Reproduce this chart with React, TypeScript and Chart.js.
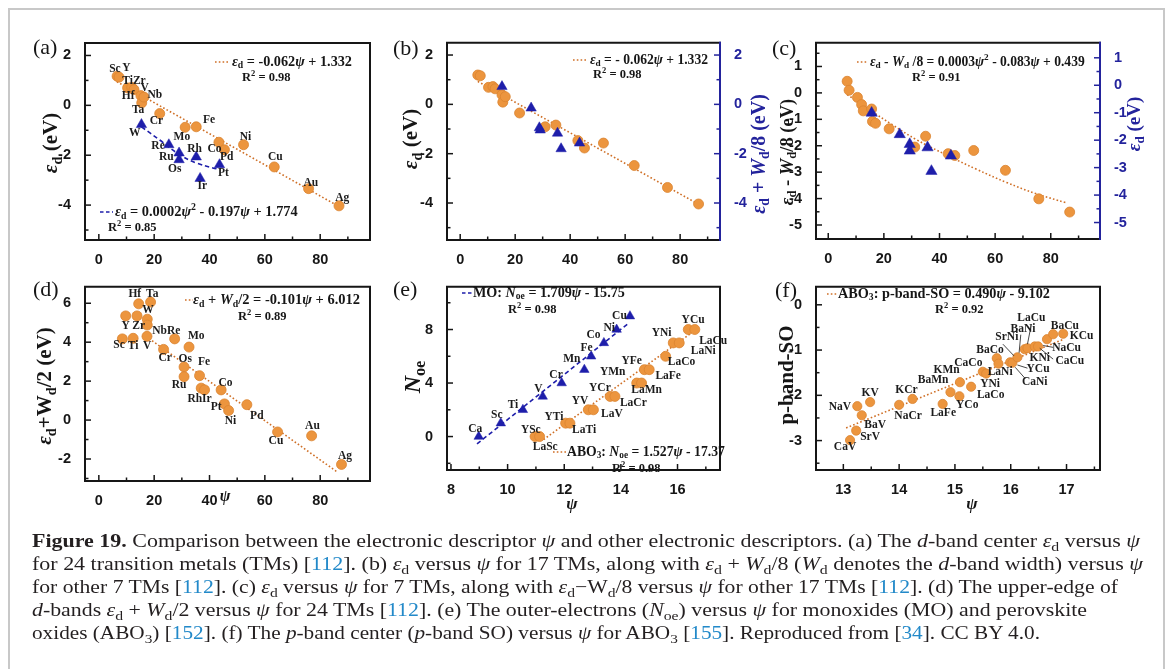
import React, { useEffect, useLayoutEffect, useRef } from 'react';
import { Chart, registerables } from 'chart.js';

Chart.register(...registerables);

// ================= DATA =================
// (a) d-band centre of 17 TMs (orange) and 7 TMs (blue)
const aOrangeNames = ['Sc', 'Y', 'Ti', 'Zr', 'Hf', 'V', 'Ta', 'Nb', 'Cr', 'Mo', 'Fe', 'Co', 'Pd', 'Ni', 'Cu', 'Au', 'Ag'];
const aOrangePsi = [6.6, 7.3, 10.4, 11.9, 12.7, 15.2, 15.5, 16.3, 22.0, 31.2, 35.2, 43.4, 45.4, 52.3, 63.4, 75.8, 86.8];
const aOrangeEd = [1.17, 1.13, 0.70, 0.72, 0.63, 0.39, 0.10, 0.33, -0.33, -0.88, -0.86, -1.48, -1.78, -1.58, -2.47, -3.34, -4.03];
const aBlueNames = ['W', 'Re', 'Ru', 'Os', 'Rh', 'Ir', 'Pt'];
const aBluePsi = [15.4, 25.3, 29.0, 29.0, 35.2, 36.6, 43.6];
const aBlueEd = [-0.77, -1.58, -1.91, -2.18, -2.07, -2.93, -2.38];
const aFitPsi = [6.5, 87.0];
const aFitEd = [0.95, -4.07];
const aCurvePsi = [15.4, 22.0, 29.2, 35.2, 41.2, 43.6];
const aCurveEd = [-0.86, -1.39, -1.98, -2.31, -2.51, -2.57];
const aLabelText = ['Sc', 'Y', 'TiZr', 'V', 'Nb', 'Hf', 'Ta', 'Cr', 'Fe', 'W', 'Mo', 'Ni', 'Re', 'Rh', 'Co', 'Ru', 'Pd', 'Cu', 'Os', 'Pt', 'Ir', 'Au', 'Ag'];
const aLabelX = [5.8, 10.0, 12.7, 16.6, 20.2, 10.6, 14.2, 20.8, 39.8, 13.0, 30.0, 53.0, 21.4, 34.6, 41.8, 24.4, 46.2, 63.8, 27.4, 45.0, 37.4, 76.6, 88.0];
const aLabelY = [1.45, 1.48, 0.96, 0.70, 0.40, 0.36, -0.20, -0.62, -0.57, -1.12, -1.28, -1.28, -1.65, -1.76, -1.76, -2.07, -2.07, -2.07, -2.57, -2.73, -3.23, -3.10, -3.70];

// (b) ε_d (17 TMs) and ε_d + W_d/8 (7 TMs)
const bOrangePsi = [6.4, 7.3, 10.3, 11.9, 12.7, 15.2, 15.5, 16.4, 21.6, 30.9, 34.8, 42.8, 45.2, 52.1, 63.3, 75.4, 86.7];
const bOrangeEd = [1.19, 1.16, 0.69, 0.72, 0.63, 0.39, 0.09, 0.31, -0.35, -0.91, -0.84, -1.47, -1.77, -1.57, -2.48, -3.37, -4.04];
const bBluePsi = [15.2, 25.8, 28.8, 29.1, 35.4, 36.7, 43.4];
const bBlueVal = [0.72, -0.15, -0.95, -1.04, -1.17, -1.80, -1.57];
const bFitPsi = [6.4, 86.7];
const bFitEd = [0.93, -4.05];

// (c) ε_d - W_d/8 (17 TMs) and ε_d (7 TMs)
const cOrangePsi = [6.8, 7.5, 10.5, 12.0, 12.6, 15.6, 15.9, 17.0, 21.9, 31.1, 35.0, 43.1, 45.5, 52.3, 63.7, 75.7, 86.8];
const cOrangeVal = [0.44, 0.10, -0.17, -0.44, -0.68, -0.61, -1.08, -1.15, -1.36, -2.05, -1.64, -2.30, -2.37, -2.18, -2.93, -4.01, -4.51];
const cBluePsi = [15.6, 25.7, 29.3, 29.3, 35.7, 37.1, 44.1];
const cBlueEd = [-1.01, -1.79, -2.15, -2.39, -2.27, -3.13, -2.57];
const cFitPsi = [6.8, 15.0, 23.4, 31.7, 42.5, 53.3, 64.1, 74.9, 85.6];
const cFitVal = [-0.06, -0.65, -1.23, -1.77, -2.35, -2.89, -3.39, -3.82, -4.16];

// (d) ε_d + W_d/2 for 24 TMs
const dNames = ['Hf', 'Ta', 'W', 'Nb', 'Y', 'Zr', 'Sc', 'Ti', 'V', 'Re', 'Mo', 'Cr', 'Os', 'Ru', 'Fe', 'Rh', 'Ir', 'Co', 'Pt', 'Ni', 'Pd', 'Cu', 'Au', 'Ag'];
const dPsi = [14.4, 18.7, 17.5, 17.5, 9.7, 13.8, 8.5, 12.4, 17.4, 27.4, 32.6, 23.4, 30.8, 30.8, 36.4, 37.0, 38.2, 44.2, 45.4, 46.9, 53.5, 64.6, 76.9, 87.7];
const dVal = [5.97, 6.06, 5.18, 4.88, 5.35, 5.35, 4.17, 4.20, 4.30, 4.17, 3.75, 3.63, 2.73, 2.23, 2.28, 1.64, 1.55, 1.55, 0.83, 0.49, 0.79, -0.61, -0.81, -2.28];
const dFitPsi = [17.0, 86.2];
const dFitVal = [4.30, -2.67];
const dLabelText = ['Hf', 'Ta', 'W', 'Y', 'Zr', 'NbRe', 'Mo', 'Sc', 'Ti', 'V', 'Cr', 'Os', 'Fe', 'Ru', 'Co', 'RhIr', 'Pt', 'Ni', 'Pd', 'Au', 'Cu', 'Ag'];
const dLabelX = [13.0, 19.3, 17.8, 9.7, 14.4, 24.4, 35.2, 7.3, 12.4, 17.5, 24.0, 31.2, 38.0, 29.0, 45.8, 36.4, 42.4, 47.6, 57.1, 77.2, 64.0, 89.0];
const dLabelY = [6.45, 6.45, 5.65, 4.84, 4.84, 4.59, 4.30, 3.86, 3.80, 3.80, 3.19, 3.12, 2.99, 1.81, 1.89, 1.08, 0.66, -0.05, 0.20, -0.30, -1.06, -1.87];

// (e) outer electrons vs ψ
const moNames = ['Ca', 'Sc', 'Ti', 'V', 'Cr', 'Mn', 'Fe', 'Co', 'Ni', 'Cu'];
const moPsi = [8.98, 9.76, 10.54, 11.24, 11.91, 12.71, 12.95, 13.40, 13.85, 14.32];
const moNoe = [0, 1, 2, 3, 4, 5, 6, 7, 8, 9];
const moFitPsi = [8.92, 14.26];
const moFitNoe = [-0.55, 8.45];
const moLabelX = [8.86, 9.62, 10.19, 11.09, 11.71, 12.27, 12.79, 13.03, 13.59, 13.95];
const moLabelY = [0.56, 1.61, 2.34, 3.56, 4.63, 5.76, 6.59, 7.56, 8.12, 8.98];
const aboNames = ['YSc', 'LaSc', 'YTi', 'LaTi', 'YV', 'LaV', 'YCr', 'LaCr', 'YMn', 'LaMn', 'YFe', 'LaFe', 'LaCo', 'YNi', 'LaNi', 'YCu', 'LaCu'];
const aboPsi = [10.97, 11.13, 12.05, 12.20, 12.85, 13.03, 13.62, 13.79, 14.56, 14.73, 14.83, 15.00, 15.58, 15.85, 16.06, 16.38, 16.61];
const aboNoe = [0, 0, 1, 1, 2, 2, 3, 3, 4, 4, 5, 5, 6, 7, 7, 8, 8];
const aboFitPsi = [11.27, 16.5];
const aboFitNoe = [-0.22, 7.76];
const aboLabelX = [10.82, 11.33, 11.64, 12.70, 12.56, 13.68, 13.26, 14.44, 13.71, 14.91, 14.38, 15.67, 16.14, 15.44, 16.91, 16.55, 17.26];
const aboLabelY = [0.49, -0.78, 1.46, 0.49, 2.63, 1.66, 3.61, 2.51, 4.83, 3.49, 5.61, 4.54, 5.56, 7.71, 6.41, 8.73, 7.15];

// (f) p-band centre vs ψ
const fNames = ['CaV', 'SrV', 'BaV', 'NaV', 'KV', 'NaCr', 'KCr', 'LaFe', 'BaMn', 'YCo', 'KMn', 'LaCo', 'CaCo', 'YNi', 'BaCo', 'LaNi', 'CaNi', 'YCu', 'SrNi', 'BaNi', 'LaCu', 'KNi', 'CaCu', 'NaCu', 'BaCu', 'KCu'];
const fPsi = [13.12, 13.23, 13.33, 13.25, 13.48, 14.00, 14.24, 14.78, 14.92, 15.08, 15.09, 15.29, 15.50, 15.56, 15.75, 15.78, 15.99, 16.03, 16.12, 16.25, 16.30, 16.43, 16.49, 16.65, 16.76, 16.94];
const fSO = [-2.99, -2.78, -2.44, -2.24, -2.15, -2.21, -2.08, -2.19, -1.93, -2.02, -1.71, -1.81, -1.48, -1.52, -1.18, -1.30, -1.27, -1.28, -1.16, -0.98, -0.96, -0.92, -0.92, -0.76, -0.65, -0.64];
const fFitPsi = [13.05, 16.95];
const fFitSO = [-2.72, -0.76];
const fLabelText = ['LaCu', 'BaCu', 'BaNi', 'KCu', 'SrNi', 'NaCu', 'BaCo', 'KNi', 'CaCu', 'CaCo', 'YCu', 'KMn', 'LaNi', 'BaMn', 'CaNi', 'YNi', 'LaCo', 'KCr', 'KV', 'YCo', 'NaV', 'LaFe', 'NaCr', 'BaV', 'SrV', 'CaV'];
const fLabelX = [16.37, 16.97, 16.22, 17.27, 15.93, 17.0, 15.63, 16.52, 17.06, 15.24, 16.49, 14.85, 15.81, 14.61, 16.43, 15.63, 15.64, 14.13, 13.48, 15.22, 12.94, 14.79, 14.16, 13.57, 13.48, 13.03];
const fLabelY = [-0.29, -0.46, -0.54, -0.70, -0.72, -0.96, -1.00, -1.18, -1.25, -1.28, -1.42, -1.45, -1.48, -1.66, -1.70, -1.74, -1.99, -1.88, -1.95, -2.21, -2.26, -2.39, -2.46, -2.65, -2.93, -3.15];
const fLeadX1 = [16.37, 16.18, 15.86, 16.76, 16.76, 16.30, 16.26];
const fLeadY1 = [-0.43, -0.66, -0.87, -0.94, -1.20, -1.40, -1.63];
const fLeadX2 = [16.30, 16.15, 16.06, 16.58, 16.52, 16.12, 16.08];
const fLeadY2 = [-0.87, -1.06, -1.13, -0.90, -0.96, -1.33, -1.38];

// ================= STYLE =================
const SERIF = '"Liberation Serif", "Times New Roman", serif';
const SANS = '"Liberation Sans", Arial, sans-serif';
const ORANGE = '#EC953E';
const ORANGE_EDGE = '#DA8431';
const FIT_ORANGE = '#CF6F26';
const BLUE = '#1E1EAA';
const AXIS_BLUE = '#23239C';
const BLACK = '#161616';
const REF = '#2289c9';

// ================= RICH TEXT =================
type Seg = { t: string; it: boolean; sub: boolean; sup: boolean };
function parseRich(s: string): Seg[] {
  const segs: Seg[] = [];
  let it = false;
  let mode = '';
  let buf = '';
  const push = () => {
    if (buf) segs.push({ t: buf, it, sub: mode === 'sub', sup: mode === 'sup' });
    buf = '';
  };
  for (let i = 0; i < s.length; i++) {
    const c = s[i];
    if (c === '|') { push(); it = !it; continue; }
    if ((c === '_' || c === '^') && s[i + 1] === '{') { push(); mode = c === '_' ? 'sub' : 'sup'; i++; continue; }
    if (c === '}' && mode) { push(); mode = ''; continue; }
    buf += c;
  }
  push();
  return segs;
}
function fontFor(sg: Seg, size: number, bold: boolean) {
  const sz = sg.sub || sg.sup ? size * 0.68 : size;
  return `${sg.it ? 'italic ' : ''}${bold ? 'bold ' : ''}${sz.toFixed(2)}px ${SERIF}`;
}
interface TextItem { t: string; x: number; y: number; size?: number; fitW?: number; align?: 'left' | 'center' | 'right'; rot?: boolean; color?: string; bold?: boolean }
function drawRich(ctx: CanvasRenderingContext2D, it: TextItem) {
  const segs = parseRich(it.t);
  const bold = it.bold !== false;
  let size = it.size ?? 12.5;
  const measure = (sz: number) => segs.reduce((w, sg) => { ctx.font = fontFor(sg, sz, bold); return w + ctx.measureText(sg.t).width; }, 0);
  let w = measure(size);
  if (it.fitW) { size = size * it.fitW / w; w = measure(size); }
  ctx.save();
  ctx.translate(it.x, it.y);
  if (it.rot) ctx.rotate(-Math.PI / 2);
  const align = it.align ?? 'left';
  let x = align === 'center' ? -w / 2 : align === 'right' ? -w : 0;
  ctx.fillStyle = it.color ?? BLACK;
  ctx.textBaseline = 'middle';
  ctx.textAlign = 'left';
  for (const sg of segs) {
    ctx.font = fontFor(sg, size, bold);
    const dy = sg.sub ? size * 0.28 : sg.sup ? -size * 0.33 : 0;
    ctx.fillText(sg.t, x, dy);
    x += ctx.measureText(sg.t).width;
  }
  ctx.restore();
}

// ================= PANELS =================
interface AxisDef { min: number; max: number; major: number[]; minor: number[] }
interface SegItem { x1: number; x2: number; y: number; color: string; dash: number[] }
interface PanelDef {
  id: string; cx: number; cy: number; cw: number; ch: number;
  L: number; T: number; R: number; B: number;
  x: AxisDef; y: AxisDef; y2?: AxisDef;
  datasets: any[];
  texts: TextItem[];
  segs: SegItem[];
  pointLabels?: { t: string[]; x: number[]; y: number[] }[];
  leaders?: { x1: number[]; y1: number[]; x2: number[]; y2: number[] };
}

const pts = (xs: number[], ys: number[]) => xs.map((x, i) => ({ x, y: ys[i] }));
const circles = (xs: number[], ys: number[], r = 5, yAxisID = 'y') => ({
  type: 'scatter', data: pts(xs, ys), yAxisID, pointStyle: 'circle', pointRadius: r,
  backgroundColor: ORANGE, borderColor: ORANGE_EDGE, borderWidth: 0.8, showLine: false, order: 1,
});
const triangles = (xs: number[], ys: number[], r = 6, yAxisID = 'y') => ({
  type: 'scatter', data: pts(xs, ys), yAxisID, pointStyle: 'triangle', pointRadius: r,
  backgroundColor: BLUE, borderColor: BLUE, borderWidth: 0.5, showLine: false, order: 0,
});
const fitLine = (xs: number[], ys: number[], color: string, dash: number[], tension = 0, yAxisID = 'y') => ({
  type: 'line', data: pts(xs, ys), yAxisID, borderColor: color, borderWidth: 1.6, borderDash: dash,
  pointRadius: 0, fill: false, tension, order: 10,
});
const DOT = [1.6, 2.2];
const DASH = [4.5, 3];

const panelLabel = (t: string, x: number, y: number): TextItem => ({ t, x, y, size: 22, bold: false });

const PANELS: PanelDef[] = [
  {
    id: 'a', cx: 18, cy: 28, cw: 367, ch: 245, L: 85, T: 43, R: 370, B: 240,
    x: { min: -5, max: 98, major: [0, 20, 40, 60, 80], minor: [10, 30, 50, 70, 90] },
    y: { min: -5.4, max: 2.5, major: [-4, -2, 0, 2], minor: [-5, -3, -1, 1] },
    datasets: [
      triangles(aBluePsi, aBlueEd),
      circles(aOrangePsi, aOrangeEd),
      fitLine(aFitPsi, aFitEd, FIT_ORANGE, DOT),
      fitLine(aCurvePsi, aCurveEd, BLUE, DASH, 0.4),
    ],
    pointLabels: [{ t: aLabelText, x: aLabelX, y: aLabelY }],
    segs: [
      { x1: 215, x2: 228, y: 62, color: FIT_ORANGE, dash: DOT },
      { x1: 100, x2: 113, y: 212, color: BLUE, dash: [3.5, 2.5] },
    ],
    texts: [
      { t: '|ε|_{d} = -0.062|ψ| + 1.332', x: 232, y: 62, fitW: 120 },
      { t: 'R^{2} = 0.98', x: 242, y: 78 },
      { t: '|ε|_{d} = 0.0002|ψ|^{2} - 0.197|ψ| + 1.774', x: 115, y: 212, fitW: 183 },
      { t: 'R^{2} = 0.85', x: 108, y: 228 },
      { t: '|ε|_{d} (eV)', x: 52, y: 143, size: 21, rot: true, align: 'center' },
      panelLabel('(a)', 33, 48),
    ],
  },
  {
    id: 'b', cx: 385, cy: 28, cw: 392, ch: 245, L: 447, T: 40, R: 720, B: 240,
    x: { min: -4.8, max: 94.5, major: [0, 20, 40, 60, 80], minor: [10, 30, 50, 70, 90] },
    y: { min: -5.5, max: 2.5, major: [-4, -2, 0, 2], minor: [-5, -3, -1, 1] },
    y2: { min: -5.5, max: 2.5, major: [-4, -2, 0, 2], minor: [-5, -3, -1, 1] },
    datasets: [
      triangles(bBluePsi, bBlueVal, 6, 'y2'),
      circles(bOrangePsi, bOrangeEd),
      fitLine(bFitPsi, bFitEd, FIT_ORANGE, DOT),
    ],
    segs: [{ x1: 573, x2: 587, y: 60, color: FIT_ORANGE, dash: DOT }],
    texts: [
      { t: '|ε|_{d} = - 0.062|ψ| + 1.332', x: 590, y: 60, fitW: 118 },
      { t: 'R^{2} = 0.98', x: 593, y: 75 },
      { t: '|ε|_{d} (eV)', x: 412, y: 139, size: 21, rot: true, align: 'center' },
      { t: '|ε|_{d} + |W|_{d}/8 (eV)', x: 760, y: 154, size: 20, rot: true, align: 'center', color: AXIS_BLUE },
      panelLabel('(b)', 393, 49),
    ],
  },
  {
    id: 'c', cx: 765, cy: 28, cw: 398, ch: 245, L: 816, T: 40, R: 1100, B: 239,
    x: { min: -4.4, max: 97.7, major: [0, 20, 40, 60, 80], minor: [10, 30, 50, 70, 90] },
    y: { min: -5.53, max: 1.9, major: [-5, -4, -3, -2, -1, 0, 1], minor: [-4.5, -3.5, -2.5, -1.5, -0.5, 0.5, 1.5] },
    y2: { min: -5.6, max: 1.55, major: [-5, -4, -3, -2, -1, 0, 1], minor: [-4.5, -3.5, -2.5, -1.5, -0.5, 0.5] },
    datasets: [
      triangles(cBluePsi, cBlueEd, 6.5, 'y2'),
      circles(cOrangePsi, cOrangeVal),
      fitLine(cFitPsi, cFitVal, FIT_ORANGE, DOT, 0.4),
    ],
    segs: [{ x1: 857, x2: 868, y: 62, color: FIT_ORANGE, dash: DOT }],
    texts: [
      { t: '|ε|_{d} - |W|_{d} /8 = 0.0003|ψ|^{2} - 0.083|ψ| + 0.439', x: 870, y: 62, fitW: 215 },
      { t: 'R^{2} = 0.91', x: 912, y: 78 },
      { t: '|ε|_{d} - |W|_{d}/8 (eV)', x: 788, y: 152, size: 18.5, rot: true, align: 'center' },
      { t: '|ε|_{d} (eV)', x: 1135, y: 124, size: 19, rot: true, align: 'center', color: AXIS_BLUE },
      panelLabel('(c)', 772, 49),
    ],
  },
  {
    id: 'd', cx: 18, cy: 272, cw: 367, ch: 240, L: 85, T: 283, R: 370, B: 481,
    x: { min: -5, max: 98, major: [0, 20, 40, 60, 80], minor: [10, 30, 50, 70, 90] },
    y: { min: -3.13, max: 6.85, major: [-2, 0, 2, 4, 6], minor: [-3, -1, 1, 3, 5] },
    datasets: [
      circles(dPsi, dVal),
      fitLine(dFitPsi, dFitVal, FIT_ORANGE, DOT),
    ],
    pointLabels: [{ t: dLabelText, x: dLabelX, y: dLabelY }],
    segs: [{ x1: 185, x2: 193, y: 300, color: FIT_ORANGE, dash: DOT }],
    texts: [
      { t: '|ε|_{d} + |W|_{d}/2 = -0.101|ψ| + 6.012', x: 193, y: 300, fitW: 167 },
      { t: 'R^{2} = 0.89', x: 238, y: 317 },
      { t: '|ε|_{d}+W_{d}/2 (eV)', x: 46, y: 386, size: 21, rot: true, align: 'center' },
      { t: '|ψ|', x: 225, y: 497, size: 16, align: 'center' },
      panelLabel('(d)', 33, 290),
    ],
  },
  {
    id: 'e', cx: 385, cy: 272, cw: 380, ch: 245, L: 447, T: 283, R: 720, B: 470,
    x: { min: 7.86, max: 17.5, major: [8, 10, 12, 14, 16], minor: [9, 11, 13, 15, 17] },
    y: { min: -2.5, max: 11.2, major: [0, 4, 8], minor: [-2, 2, 6, 10] },
    datasets: [
      triangles(moPsi, moNoe, 5.5),
      circles(aboPsi, aboNoe, 5),
      fitLine(moFitPsi, moFitNoe, BLUE, DASH),
      fitLine(aboFitPsi, aboFitNoe, FIT_ORANGE, DOT),
    ],
    pointLabels: [
      { t: moNames, x: moLabelX, y: moLabelY },
      { t: aboNames, x: aboLabelX, y: aboLabelY },
    ],
    segs: [
      { x1: 462, x2: 472, y: 293, color: BLUE, dash: [3.5, 2.5] },
      { x1: 553, x2: 567, y: 452, color: FIT_ORANGE, dash: DOT },
    ],
    texts: [
      { t: 'MO: |N|_{oe} = 1.709|ψ| - 15.75', x: 473, y: 293, fitW: 152 },
      { t: 'R^{2} = 0.98', x: 508, y: 310 },
      { t: 'ABO_{3}: |N|_{oe} = 1.527|ψ| - 17.37', x: 567, y: 452, fitW: 158 },
      { t: 'R^{2} = 0.98', x: 612, y: 469 },
      { t: '|N|_{oe}', x: 414, y: 377, size: 24, rot: true, align: 'center' },
      { t: '|ψ|', x: 572, y: 505, size: 17, align: 'center' },
      panelLabel('(e)', 393, 290),
    ],
  },
  {
    id: 'f', cx: 765, cy: 272, cw: 398, ch: 245, L: 816, T: 283, R: 1100, B: 470,
    x: { min: 12.51, max: 17.6, major: [13, 14, 15, 16, 17], minor: [12.5, 13.5, 14.5, 15.5, 16.5, 17.5] },
    y: { min: -3.65, max: 0.4, major: [-3, -2, -1, 0], minor: [-3.5, -2.5, -1.5, -0.5] },
    datasets: [
      circles(fPsi, fSO, 4.6),
      fitLine(fFitPsi, fFitSO, FIT_ORANGE, DOT),
    ],
    pointLabels: [{ t: fLabelText, x: fLabelX, y: fLabelY }],
    leaders: { x1: fLeadX1, y1: fLeadY1, x2: fLeadX2, y2: fLeadY2 },
    segs: [{ x1: 827, x2: 838, y: 294, color: FIT_ORANGE, dash: DOT }],
    texts: [
      { t: 'ABO_{3}: p-band-SO = 0.490|ψ| - 9.102', x: 838, y: 294, fitW: 212 },
      { t: 'R^{2} = 0.92', x: 935, y: 310 },
      { t: 'p-band-SO', x: 788, y: 375, size: 21, rot: true, align: 'center' },
      { t: '|ψ|', x: 972, y: 505, size: 17, align: 'center' },
      panelLabel('(f)', 775, 291),
    ],
  },
];

// ================= CHART =================
function decoPlugin(p: PanelDef) {
  return {
    id: 'deco_' + p.id,
    afterDraw(chart: any) {
      const ctx: CanvasRenderingContext2D = chart.ctx;
      const { left, right, top, bottom } = chart.chartArea;
      const sx = chart.scales.x;
      const sy = chart.scales.y;
      const sy2 = chart.scales.y2;
      ctx.save();
      if (p.leaders) {
        ctx.strokeStyle = '#333';
        ctx.lineWidth = 0.9;
        p.leaders.x1.forEach((_, i) => {
          ctx.beginPath();
          ctx.moveTo(sx.getPixelForValue(p.leaders!.x1[i]), sy.getPixelForValue(p.leaders!.y1[i]));
          ctx.lineTo(sx.getPixelForValue(p.leaders!.x2[i]), sy.getPixelForValue(p.leaders!.y2[i]));
          ctx.stroke();
        });
      }
      ctx.setLineDash([]);
      ctx.lineWidth = 2;
      ctx.lineCap = 'square';
      ctx.strokeStyle = BLACK;
      ctx.beginPath();
      ctx.moveTo(right, top);
      ctx.lineTo(left, top);
      ctx.lineTo(left, bottom);
      ctx.lineTo(right, bottom);
      if (!p.y2) ctx.lineTo(right, top);
      ctx.stroke();
      if (p.y2) {
        ctx.strokeStyle = AXIS_BLUE;
        ctx.beginPath();
        ctx.moveTo(right, top);
        ctx.lineTo(right, bottom);
        ctx.stroke();
      }
      ctx.lineWidth = 1.5;
      ctx.lineCap = 'butt';
      const tick = (x1: number, y1: number, x2: number, y2: number) => {
        ctx.beginPath(); ctx.moveTo(x1, y1); ctx.lineTo(x2, y2); ctx.stroke();
      };
      ctx.strokeStyle = BLACK;
      p.x.major.forEach(v => { const px = sx.getPixelForValue(v); tick(px, bottom, px, bottom - 6); });
      p.x.minor.forEach(v => { if (v > p.x.min && v < p.x.max) { const px = sx.getPixelForValue(v); tick(px, bottom, px, bottom - 3.5); } });
      p.y.major.forEach(v => { const py = sy.getPixelForValue(v); tick(left, py, left + 6, py); });
      p.y.minor.forEach(v => { if (v > p.y.min && v < p.y.max) { const py = sy.getPixelForValue(v); tick(left, py, left + 3.5, py); } });
      if (p.y2 && sy2) {
        ctx.strokeStyle = AXIS_BLUE;
        p.y2.major.forEach(v => { const py = sy2.getPixelForValue(v); tick(right, py, right - 6, py); });
        p.y2.minor.forEach(v => { if (v > p.y2!.min && v < p.y2!.max) { const py = sy2.getPixelForValue(v); tick(right, py, right - 3.5, py); } });
      }
      p.segs.forEach(s => {
        ctx.strokeStyle = s.color;
        ctx.lineWidth = 1.6;
        ctx.setLineDash(s.dash);
        ctx.beginPath();
        ctx.moveTo(s.x1 - p.cx, s.y - p.cy);
        ctx.lineTo(s.x2 - p.cx, s.y - p.cy);
        ctx.stroke();
      });
      ctx.setLineDash([]);
      (p.pointLabels || []).forEach(grp => {
        grp.t.forEach((t, i) => {
          drawRich(ctx, { t, x: sx.getPixelForValue(grp.x[i]), y: sy.getPixelForValue(grp.y[i]), size: 11.5, align: 'center', color: '#1c1c1c' });
        });
      });
      p.texts.forEach(t => drawRich(ctx, { ...t, x: t.x - p.cx, y: t.y - p.cy }));
      ctx.restore();
    },
  };
}

function buildConfig(p: PanelDef): any {
  const tickFont = { family: SANS, size: 14.5, weight: 'bold' };
  const scales: any = {
    x: {
      type: 'linear', position: 'bottom', min: p.x.min, max: p.x.max,
      grid: { display: false }, border: { display: false },
      ticks: { autoSkip: false, maxRotation: 0, minRotation: 0, padding: 3, color: BLACK, font: tickFont, callback: (v: any) => String(v) },
      afterBuildTicks: (s: any) => { s.ticks = p.x.major.map(v => ({ value: v })); },
      afterFit: (s: any) => { s.height = p.cy + p.ch - p.B; },
    },
    y: {
      type: 'linear', position: 'left', min: p.y.min, max: p.y.max,
      grid: { display: false }, border: { display: false },
      ticks: { autoSkip: false, padding: 6, color: BLACK, font: tickFont, callback: (v: any) => String(v) },
      afterBuildTicks: (s: any) => { s.ticks = p.y.major.map(v => ({ value: v })); },
      afterFit: (s: any) => { s.width = p.L - p.cx; },
    },
  };
  if (p.y2) {
    scales.y2 = {
      type: 'linear', position: 'right', min: p.y2.min, max: p.y2.max,
      grid: { display: false }, border: { display: false },
      ticks: { autoSkip: false, padding: 6, color: AXIS_BLUE, font: tickFont, callback: (v: any) => String(v) },
      afterBuildTicks: (s: any) => { s.ticks = p.y2!.major.map(v => ({ value: v })); },
      afterFit: (s: any) => { s.width = p.cx + p.cw - p.R; },
    };
  }
  return {
    type: 'scatter',
    data: { datasets: p.datasets },
    options: {
      animation: false,
      responsive: false,
      maintainAspectRatio: false,
      events: [],
      layout: { padding: { left: 0, top: p.T - p.cy, right: p.y2 ? 0 : p.cx + p.cw - p.R, bottom: 0 } },
      plugins: { legend: { display: false }, tooltip: { enabled: false } },
      scales,
    },
    plugins: [decoPlugin(p)],
  };
}

function PanelChart({ def }: { def: PanelDef }) {
  const ref = useRef<HTMLCanvasElement>(null);
  useEffect(() => {
    const chart = new Chart(ref.current as HTMLCanvasElement, buildConfig(def));
    return () => chart.destroy();
  }, [def]);
  return (
    <canvas
      ref={ref}
      width={def.cw}
      height={def.ch}
      style={{ position: 'absolute', left: def.cx, top: def.cy, width: def.cw, height: def.ch }}
    />
  );
}

// ================= CAPTION =================
const sub = (t: string) => <span style={{ fontSize: '0.72em', verticalAlign: '-0.28em', lineHeight: 0 }}>{t}</span>;
const ed = <><i>ε</i>{sub('d')}</>;
const Wd = <><i>W</i>{sub('d')}</>;
const psi = <i>ψ</i>;
const ref = (n: string) => <>[<span style={{ color: REF }}>{n}</span>]</>;

const captionEnds = [1140, 1143, 1118, 1087, 1040];
const captionCenters = [541, 564, 587, 610, 633];
const CAPTION_LEFT = 32;

const captionLines = [
  <><b>Figure 19.</b> Comparison between the electronic descriptor {psi} and other electronic descriptors. (a) The <i>d</i>-band center {ed} versus {psi}</>,
  <>for 24 transition metals (TMs) {ref('112')}. (b) {ed} versus {psi} for 17 TMs, along with {ed} + {Wd}/8 ({Wd} denotes the <i>d</i>-band width) versus {psi}</>,
  <>for other 7 TMs {ref('112')}. (c) {ed} versus {psi} for 7 TMs, along with {ed}−W{sub('d')}/8 versus {psi} for other 17 TMs {ref('112')}. (d) The upper-edge of</>,
  <><i>d</i>-bands {ed} + {Wd}/2 versus {psi} for 24 TMs {ref('112')}. (e) The outer-electrons (<i>N</i>{sub('oe')}) versus {psi} for monoxides (MO) and perovskite</>,
  <>oxides (ABO{sub('3')}) {ref('152')}. (f) The <i>p</i>-band center (<i>p</i>-band SO) versus {psi} for ABO{sub('3')} {ref('155')}. Reproduced from {ref('34')}. CC BY 4.0.</>,
];

function Caption() {
  const refs = useRef<(HTMLSpanElement | null)[]>([]);
  useLayoutEffect(() => {
    refs.current.forEach((el, i) => {
      if (!el) return;
      const w = el.getBoundingClientRect().width;
      const target = captionEnds[i] - CAPTION_LEFT;
      if (w > 0) el.style.transform = `scaleX(${target / w})`;
    });
  }, []);
  return (
    <>
      {captionLines.map((line, i) => (
        <div
          key={i}
          style={{
            position: 'absolute', left: CAPTION_LEFT, top: captionCenters[i] - 11.5, height: 23,
            lineHeight: '23px', whiteSpace: 'nowrap', fontFamily: SERIF, fontSize: 18.5, color: '#231f20',
          }}
        >
          <span
            ref={el => { refs.current[i] = el; }}
            style={{ display: 'inline-block', transformOrigin: '0 50%' }}
          >
            {line}
          </span>
        </div>
      ))}
    </>
  );
}

export default function App() {
  return (
    <div>
      <div
        style={{
          position: 'fixed', left: 8, top: 8, width: 1157, height: 700,
          border: '2px solid #c8c8c8', boxSizing: 'border-box', background: '#fff',
        }}
      />
      {PANELS.map(p => <PanelChart key={p.id} def={p} />)}
      <Caption />
    </div>
  );
}
